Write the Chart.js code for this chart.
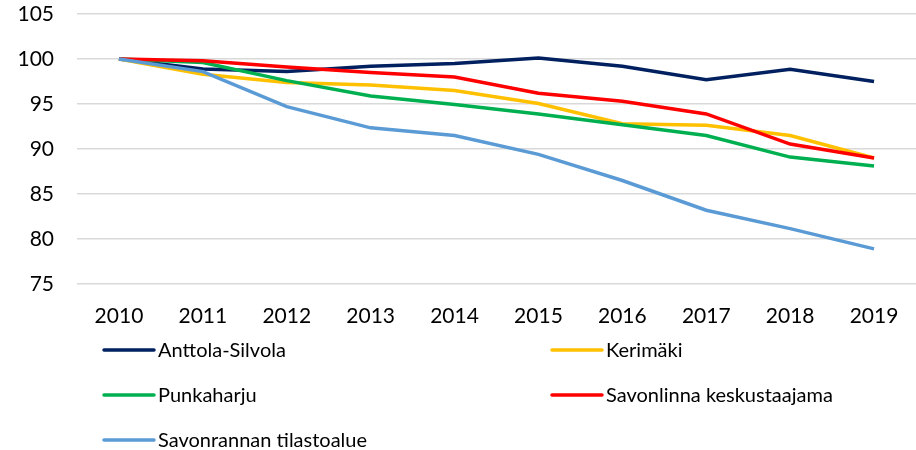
<!DOCTYPE html>
<html>
<head>
<meta charset="utf-8">
<script src="https://cdn.jsdelivr.net/npm/chart.js@4/dist/chart.umd.min.js"></script>
<style>
  html, body { margin: 0; padding: 0; background: #fff; }
  #wrap { width: 916px; height: 450px; }
</style>
</head>
<body>
<div id="wrap"><canvas id="c" width="916" height="450"></canvas></div>
<script>
// Population index, 2010 = 100
const years = ['2010', '2011', '2012', '2013', '2014', '2015', '2016', '2017', '2018', '2019'];
const seriesNames = ['Anttola-Silvola', 'Kerimäki', 'Punkaharju', 'Savonlinna keskustaajama', 'Savonrannan tilastoalue'];
const anttolaSilvola = [100, 98.9, 98.6, 99.2, 99.5, 100.1, 99.2, 97.7, 98.85, 97.5];
const kerimaki      = [100, 98.3, 97.4, 97.1, 96.5, 95.05, 92.8, 92.65, 91.5, 89.0];
const punkaharju    = [100, 99.6, 97.6, 95.9, 94.95, 93.9, 92.7, 91.5, 89.1, 88.1];
const savonlinnaKa  = [100, 99.8, 99.1, 98.5, 98.0, 96.2, 95.3, 93.9, 90.55, 89.0];
const savonranta    = [100, 98.6, 94.7, 92.35, 91.5, 89.4, 86.5, 83.2, 81.15, 78.9];
const yTicks = [75, 80, 85, 90, 95, 100, 105];

const colors = ['#002060', '#FFC000', '#00B050', '#FF0000', '#5B9BD5'];
const values = [anttolaSilvola, kerimaki, punkaharju, savonlinnaKa, savonranta];
const FONT = 'Lato, "Open Sans", sans-serif';

const datasets = values.map((v, i) => ({
  label: seriesNames[i],
  data: v,
  borderColor: colors[i],
  backgroundColor: colors[i],
  borderWidth: 3.5,
  pointRadius: 0,
  pointHoverRadius: 0,
  tension: 0,
  fill: false,
  order: values.length - i   // later series painted on top
}));

// Two-column legend under the axis
const gridLegend = {
  id: 'gridLegend',
  afterDraw(chart) {
    const ctx = chart.ctx;
    const base = chart.chartArea.bottom;
    const colX = [102, 550];
    const rowY = [66, 111, 156];
    ctx.save();
    ctx.font = '20px ' + FONT;
    ctx.textBaseline = 'middle';
    ctx.textAlign = 'left';
    chart.data.datasets.forEach((ds, i) => {
      const x = colX[i % 2];
      const y = base + rowY[Math.floor(i / 2)];
      ctx.strokeStyle = ds.borderColor;
      ctx.lineWidth = 3.5;
      ctx.lineCap = 'round';
      ctx.beginPath();
      ctx.moveTo(x + 2, y);
      ctx.lineTo(x + 52, y);
      ctx.stroke();
      ctx.fillStyle = '#000';
      ctx.fillText(ds.label, x + 56, y + 1);
    });
    ctx.restore();
  }
};

new Chart(document.getElementById('c'), {
  type: 'line',
  data: { labels: years, datasets },
  plugins: [gridLegend],
  options: {
    responsive: false,
    devicePixelRatio: 1,
    animation: false,
    layout: { padding: { top: 14, right: -3, bottom: 0, left: 0 } },
    plugins: { legend: { display: false }, tooltip: { enabled: false } },
    scales: {
      x: {
        offset: true,
        grid: { display: false, drawTicks: false },
        border: { display: false },
        ticks: { color: '#000', font: { family: FONT, size: 21 }, padding: 20, maxRotation: 0 },
        afterFit(scale) {
          scale.height = 166;
          scale.paddingLeft = 0;
          scale.paddingRight = 0;
        }
      },
      y: {
        min: 75,
        max: 105,
        afterBuildTicks(scale) { scale.ticks = yTicks.map(v => ({ value: v })); },
        grid: { color: '#D9D9D9', lineWidth: 1.5, drawTicks: false },
        border: { display: false },
        ticks: { color: '#000', font: { family: FONT, size: 21 }, padding: 23 },
        afterFit(scale) {
          scale.width = 77;
          scale.paddingTop = 0;
          scale.paddingBottom = 0;
        }
      }
    }
  }
});
</script>
</body>
</html>
